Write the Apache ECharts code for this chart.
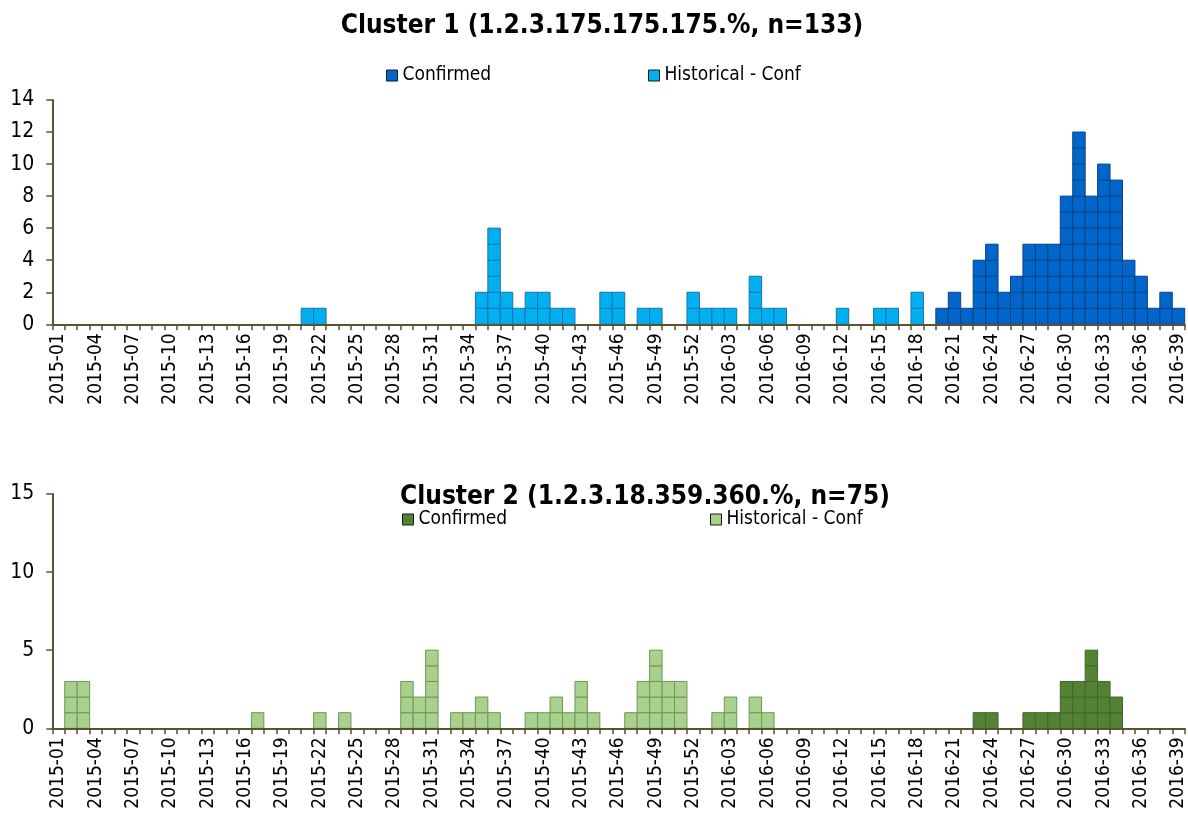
<!DOCTYPE html>
<html>
<head>
<meta charset="utf-8">
<script src="https://cdn.jsdelivr.net/npm/echarts@6/dist/echarts.min.js"></script>
<style>
html,body{margin:0;padding:0;background:#fff;}
#chart{width:1188px;height:820px;}
</style>
</head>
<body>
<div id="chart"></div>
<script>
// ---- categories (ISO weeks) ----
const weeks = [
 '2015-01','2015-02','2015-03','2015-04','2015-05','2015-06','2015-07','2015-08','2015-09','2015-10',
 '2015-11','2015-12','2015-13','2015-14','2015-15','2015-16','2015-17','2015-18','2015-19','2015-20',
 '2015-21','2015-22','2015-23','2015-24','2015-25','2015-26','2015-27','2015-28','2015-29','2015-30',
 '2015-31','2015-32','2015-33','2015-34','2015-35','2015-36','2015-37','2015-38','2015-39','2015-40',
 '2015-41','2015-42','2015-43','2015-44','2015-45','2015-46','2015-47','2015-48','2015-49','2015-50',
 '2015-51','2015-52','2016-01','2016-02','2016-03','2016-04','2016-05','2016-06','2016-07','2016-08',
 '2016-09','2016-10','2016-11','2016-12','2016-13','2016-14','2016-15','2016-16','2016-17','2016-18',
 '2016-19','2016-20','2016-21','2016-22','2016-23','2016-24','2016-25','2016-26','2016-27','2016-28',
 '2016-29','2016-30','2016-31','2016-32','2016-33','2016-34','2016-35','2016-36','2016-37','2016-38',
 '2016-39'
];

// ---- Cluster 1 counts per week ----
const c1Confirmed = [
 0,0,0,0,0,0,0,0,0,0,
 0,0,0,0,0,0,0,0,0,0,
 0,0,0,0,0,0,0,0,0,0,
 0,0,0,0,0,0,0,0,0,0,
 0,0,0,0,0,0,0,0,0,0,
 0,0,0,0,0,0,0,0,0,0,
 0,0,0,0,0,0,0,0,0,0,
 0,1,2,1,4,5,2,3,5,5,
 5,8,12,8,10,9,4,3,1,2,
 1
];
const c1Historical = [
 0,0,0,0,0,0,0,0,0,0,
 0,0,0,0,0,0,0,0,0,0,
 1,1,0,0,0,0,0,0,0,0,
 0,0,0,0,2,6,2,1,2,2,
 1,1,0,0,2,2,0,1,1,0,
 0,2,1,1,1,0,3,1,1,0,
 0,0,0,1,0,0,1,1,0,2,
 0,0,0,0,0,0,0,0,0,0,
 0,0,0,0,0,0,0,0,0,0,
 0
];

// ---- Cluster 2 counts per week ----
const c2Confirmed = [
 0,0,0,0,0,0,0,0,0,0,
 0,0,0,0,0,0,0,0,0,0,
 0,0,0,0,0,0,0,0,0,0,
 0,0,0,0,0,0,0,0,0,0,
 0,0,0,0,0,0,0,0,0,0,
 0,0,0,0,0,0,0,0,0,0,
 0,0,0,0,0,0,0,0,0,0,
 0,0,0,0,1,1,0,0,1,1,
 1,3,3,5,3,2,0,0,0,0,
 0
];
const c2Historical = [
 0,3,3,0,0,0,0,0,0,0,
 0,0,0,0,0,0,1,0,0,0,
 0,1,0,1,0,0,0,0,3,2,
 5,0,1,1,2,1,0,0,1,1,
 2,1,3,1,0,0,1,3,5,3,
 3,0,0,1,2,0,2,1,0,0,
 0,0,0,0,0,0,0,0,0,0,
 0,0,0,0,0,0,0,0,0,0,
 0,0,0,0,0,0,0,0,0,0,
 0
];

const title1 = 'Cluster 1 (1.2.3.175.175.175.%, n=133)';
const title2 = 'Cluster 2 (1.2.3.18.359.360.%, n=75)';
const seriesNames = ['Confirmed', 'Historical - Conf'];

// ---- styles ----
const FONT = '"DejaVu Sans Condensed", "DejaVu Sans", sans-serif';
const AXIS_COLOR = '#595233';
const colors1 = ['#0066CC', '#00B0F0'];
const colors2 = ['#548235', '#A9D18E'];
const borders1 = ['#0d437f', '#1a74a6'];
const borders2 = ['#41662a', '#6f9655'];

// Each case is drawn as a unit box stacked in its week column
function unitSeries(counts, name, color, border, gridIdx) {
  return {
    type: 'custom',
    name: name,
    xAxisIndex: gridIdx,
    yAxisIndex: gridIdx,
    silent: true,
    itemStyle: { color: color },
    encode: { x: 0, y: 1 },
    data: counts.map((v, i) => [i, v]),
    renderItem: function (params, api) {
      const idx = api.value(0);
      const cnt = api.value(1);
      if (!cnt) return null;
      const w = api.size([1, 0])[0];
      const xc = api.coord([idx, 0])[0];
      const x0 = xc - w / 2;
      const children = [];
      for (let k = 0; k < cnt; k++) {
        const yTop = api.coord([idx, k + 1])[1];
        const yBot = api.coord([idx, k])[1];
        children.push({
          type: 'rect',
          shape: { x: x0, y: yTop, width: w, height: yBot - yTop },
          style: { fill: color, stroke: border, lineWidth: 1 }
        });
      }
      return { type: 'group', children: children };
    }
  };
}

const series = [
  unitSeries(c1Confirmed, seriesNames[0], colors1[0], borders1[0], 0),
  unitSeries(c1Historical, seriesNames[1], colors1[1], borders1[1], 0),
  unitSeries(c2Confirmed, seriesNames[0], colors2[0], borders2[0], 1),
  unitSeries(c2Historical, seriesNames[1], colors2[1], borders2[1], 1)
];

function xAxisFor(gridIdx) {
  return {
    type: 'category',
    gridIndex: gridIdx,
    data: weeks,
    boundaryGap: true,
    z: 5,
    axisLine: { lineStyle: { color: AXIS_COLOR, width: 2 } },
    axisTick: { show: true, interval: 0, alignWithLabel: false, length: 6, lineStyle: { color: AXIS_COLOR, width: 1.5 } },
    axisLabel: { interval: 2, rotate: 90, margin: 9, color: '#000', fontFamily: FONT, fontSize: 19 },
    splitLine: { show: false }
  };
}
function yAxisFor(gridIdx, max, interval) {
  return {
    type: 'value',
    gridIndex: gridIdx,
    min: 0, max: max, interval: interval,
    axisLine: { show: true, lineStyle: { color: AXIS_COLOR, width: 2 } },
    axisTick: { show: true, length: 6, lineStyle: { color: AXIS_COLOR, width: 1.5 } },
    axisLabel: { color: '#000', fontFamily: FONT, fontSize: 21, margin: 18 },
    splitLine: { show: false }
  };
}

function legendItem(name, color, left, top) {
  return {
    left: left, top: top,
    padding: 0,
    icon: 'rect', itemWidth: 11, itemHeight: 11, itemGap: 5,
    selectedMode: false,
    textStyle: { color: '#000', fontFamily: FONT, fontSize: 19, padding: [0, 0, 0, 0] },
    data: [{ name: name, itemStyle: { color: color, borderColor: '#1a1a1a', borderWidth: 1 } }]
  };
}

const option = {
  animation: false,
  backgroundColor: '#fff',
  grid: [
    { left: 52.3, right: 2.3, top: 100, height: 224.3, containLabel: false },
    { left: 52.3, right: 2.3, top: 494, height: 234.3, containLabel: false }
  ],
  xAxis: [xAxisFor(0), xAxisFor(1)],
  yAxis: [yAxisFor(0, 14, 2), yAxisFor(1, 15, 5)],
  legend: [
    legendItem(seriesNames[0], colors1[0], 386, 66),
    legendItem(seriesNames[1], colors1[1], 648, 66),
    legendItem(seriesNames[0], colors2[0], 402, 510),
    legendItem(seriesNames[1], colors2[1], 710, 510)
  ],
  graphic: [
    { type: 'text', x: 602, y: 26, style: { text: title1, fill: '#000', font: 'bold 26px ' + FONT, textAlign: 'center', textVerticalAlign: 'middle' } },
    { type: 'text', x: 645, y: 497, style: { text: title2, fill: '#000', font: 'bold 26px ' + FONT, textAlign: 'center', textVerticalAlign: 'middle' } }
  ],
  series: series
};

const chart = echarts.init(document.getElementById('chart'), null, { renderer: 'canvas' });
chart.setOption(option);
</script>
</body>
</html>
